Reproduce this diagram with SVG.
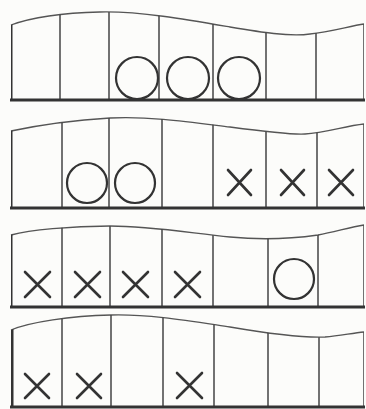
<svg xmlns="http://www.w3.org/2000/svg" width="366" height="409" viewBox="0 0 366 409">
<style>
.top{fill:none;stroke:#555;stroke-width:1.3}
.div{stroke:#444;stroke-width:1.5}
.edgeL{stroke:#333;stroke-width:3}
.edgeR{stroke:#444;stroke-width:1.5}
.base{stroke:#333;stroke-width:3}
.o{fill:none;stroke:#333;stroke-width:2.2}
.x{stroke:#333;stroke-width:2.6;stroke-linecap:round}
</style>
<defs>
<clipPath id="c1"><path d="M11,25 C30,18 60,13 100,12 C140,11 190,20 230,27 C260,32 290,37 310,34 C330,32 350,26 364,24 L364,100 L11,100 Z"/></clipPath>
<clipPath id="c2"><path d="M11,131 C30,127 60,121 110,118 C150,116 190,122 230,127 C260,131 290,135 305,134 C325,133 345,126 364,124 L364,208 L11,208 Z"/></clipPath>
<clipPath id="c3"><path d="M11,235 C30,230 70,226 110,226 C150,226 190,233 230,237 C260,240 290,239 318,235 C335,232 350,227 364,225 L364,307 L11,307 Z"/></clipPath>
<clipPath id="c4"><path d="M11,330 C30,322 70,316 111,315 C150,314 190,321 230,327 C265,333 300,338 325,337 C340,336 352,333 364,332 L364,407 L11,407 Z"/></clipPath>
</defs>
<rect width="366" height="409" fill="#fcfcfa"/>

<g id="strip1">
<path class="top" d="M11,25 C30,18 60,13 100,12 C140,11 190,20 230,27 C260,32 290,37 310,34 C330,32 350,26 364,24"/>
<g clip-path="url(#c1)">
<line class="div" x1="60" y1="0" x2="60" y2="100"/>
<line class="div" x1="109" y1="0" x2="109" y2="100"/>
<line class="div" x1="159" y1="0" x2="159" y2="100"/>
<line class="div" x1="213" y1="0" x2="213" y2="100"/>
<line class="div" x1="266" y1="0" x2="266" y2="100"/>
<line class="div" x1="316" y1="0" x2="316" y2="100"/>
<line class="edgeR" x1="364" y1="0" x2="364" y2="100"/>
<line class="edgeL" x1="11" y1="0" x2="11" y2="100"/>
</g>
<line class="base" x1="10" y1="100" x2="365" y2="100"/>
<circle class="o" cx="137" cy="78" r="21"/>
<circle class="o" cx="188" cy="78" r="21"/>
<circle class="o" cx="239" cy="78" r="21"/>
</g>

<g id="strip2">
<path class="top" d="M11,131 C30,127 60,121 110,118 C150,116 190,122 230,127 C260,131 290,135 305,134 C325,133 345,126 364,124"/>
<g clip-path="url(#c2)">
<line class="div" x1="62" y1="100" x2="62" y2="208"/>
<line class="div" x1="109" y1="100" x2="109" y2="208"/>
<line class="div" x1="162" y1="100" x2="162" y2="208"/>
<line class="div" x1="213" y1="100" x2="213" y2="208"/>
<line class="div" x1="266" y1="100" x2="266" y2="208"/>
<line class="div" x1="317" y1="100" x2="317" y2="208"/>
<line class="edgeR" x1="364" y1="100" x2="364" y2="208"/>
<line class="edgeL" x1="11" y1="100" x2="11" y2="208"/>
</g>
<line class="base" x1="10" y1="208" x2="365" y2="208"/>
<circle class="o" cx="87" cy="183" r="20"/>
<circle class="o" cx="135" cy="183" r="20"/>
<path class="x" d="M228,170 L251,195 M251,170 L228,195"/>
<path class="x" d="M281,170 L304,195 M304,170 L281,195"/>
<path class="x" d="M329,170 L353,195 M353,170 L329,195"/>
</g>

<g id="strip3">
<path class="top" d="M11,235 C30,230 70,226 110,226 C150,226 190,233 230,237 C260,240 290,239 318,235 C335,232 350,227 364,225"/>
<g clip-path="url(#c3)">
<line class="div" x1="62" y1="210" x2="62" y2="307"/>
<line class="div" x1="110" y1="210" x2="110" y2="307"/>
<line class="div" x1="162" y1="210" x2="162" y2="307"/>
<line class="div" x1="213" y1="210" x2="213" y2="307"/>
<line class="div" x1="268" y1="210" x2="268" y2="307"/>
<line class="div" x1="318" y1="210" x2="318" y2="307"/>
<line class="edgeR" x1="364" y1="210" x2="364" y2="307"/>
<line class="edgeL" x1="11" y1="210" x2="11" y2="307"/>
</g>
<line class="base" x1="10" y1="307" x2="365" y2="307"/>
<path class="x" d="M25,272 L50,297 M50,272 L25,297"/>
<path class="x" d="M75,272 L100,297 M100,272 L75,297"/>
<path class="x" d="M123,272 L148,297 M148,272 L123,297"/>
<path class="x" d="M175,272 L200,297 M200,272 L175,297"/>
<circle class="o" cx="294" cy="279" r="20"/>
</g>

<g id="strip4">
<path class="top" d="M11,330 C30,322 70,316 111,315 C150,314 190,321 230,327 C265,333 300,338 325,337 C340,336 352,333 364,332"/>
<g clip-path="url(#c4)">
<line class="div" x1="62" y1="310" x2="62" y2="407"/>
<line class="div" x1="111" y1="310" x2="111" y2="407"/>
<line class="div" x1="163" y1="310" x2="163" y2="407"/>
<line class="div" x1="214" y1="310" x2="214" y2="407"/>
<line class="div" x1="268" y1="310" x2="268" y2="407"/>
<line class="div" x1="319" y1="310" x2="319" y2="407"/>
<line class="edgeR" x1="364" y1="310" x2="364" y2="407"/>
<line class="edgeL" x1="12" y1="310" x2="12" y2="407"/>
</g>
<line class="base" x1="10" y1="407" x2="365" y2="407"/>
<path class="x" d="M25,374 L49,398 M49,374 L25,398"/>
<path class="x" d="M77,374 L101,398 M101,374 L77,398"/>
<path class="x" d="M177,373 L202,398 M202,373 L177,398"/>
</g>
</svg>
